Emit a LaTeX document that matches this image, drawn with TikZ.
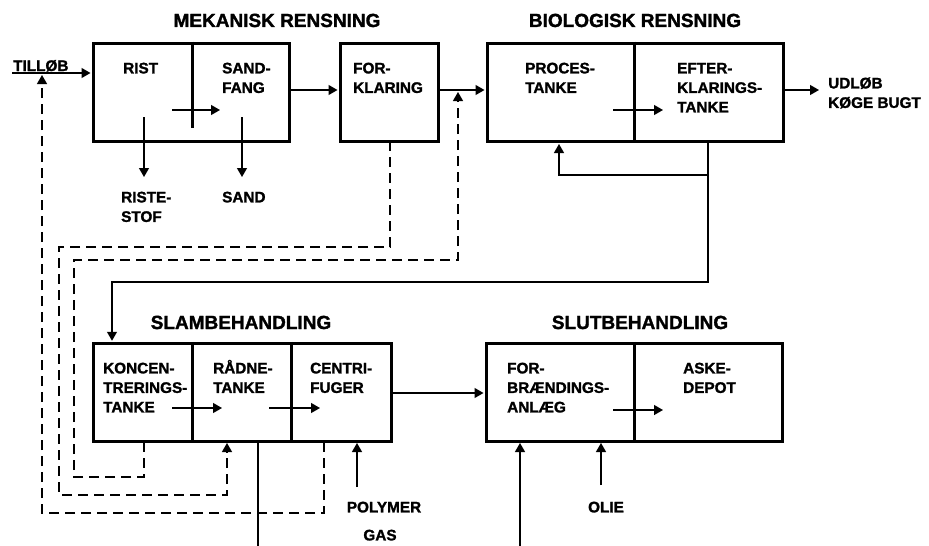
\documentclass[tikz,border=0pt]{standalone}
\usepackage{fontspec}
\setmainfont{Liberation Sans}[BoldFont={* Bold},BoldFeatures={FakeBold=1.5}]
\usetikzlibrary{arrows.meta,calc}
\begin{document}
\begin{tikzpicture}[x=1pt,y=-1pt,
  box/.style={draw, line width=3pt, inner sep=0pt, minimum width=#1, minimum height=98.5pt},
  divider/.style={line width=3pt},
  conn/.style={line width=1.3pt},
  arr/.style={line width=1.3pt, -{Triangle[length=9pt,width=10pt]}, shorten >=1pt},
  darr/.style={line width=1.3pt, dash pattern=on 10pt off 6pt, -{Triangle[length=9pt,width=10pt]}, shorten >=1pt},
  lbl/.style={font=\fontsize{15.3}{19.5}\selectfont\bfseries, inner sep=0pt, align=left, anchor=base west},
  ttl/.style={font=\fontsize{19}{22}\selectfont\bfseries, inner sep=0pt, anchor=base}]
\useasboundingbox (0,0) rectangle (929,546);
% boxes
\node[box=196pt] (mek) at (191,92.25) {};
\node[box=98pt] (fork) at (389,92.25) {};
\node[box=296pt] (bio) at (635,92.25) {};
\node[box=298pt] (slam) at (242,392.5) {};
\node[box=296pt] (slut) at (634,392.5) {};
% dividers
\draw[divider] (mek.north -| 192,0) -- (192,128);
\draw[divider] (bio.north -| 634,0) -- (bio.south -| 634,0);
\draw[divider] (slam.north -| 192,0) -- (slam.south -| 192,0);
\draw[divider] (slam.north -| 291,0) -- (slam.south -| 291,0);
\draw[divider] (slut.north -| 634,0) -- (slut.south -| 634,0);
% titles
\node[ttl] (t1) at (277,27) {MEKANISK RENSNING};
\node[ttl] (t2) at (635,27) {BIOLOGISK RENSNING};
\node[ttl] (t3) at (241,329) {SLAMBEHANDLING};
\node[ttl] (t4) at (640,329) {SLUTBEHANDLING};
% labels (base anchor = last line baseline)
\node[lbl] (tillob) at (13,71) {TILLØB};
\node[lbl] (rist) at (123,73.4) {RIST};
\node[lbl] (sandfang) at (222,92.9) {SAND-\\FANG};
\node[lbl] (forkl) at (353,92.9) {FOR-\\KLARING};
\node[lbl] (proces) at (525,92.9) {PROCES-\\TANKE};
\node[lbl] (efter) at (677,112.4) {EFTER-\\KLARINGS-\\TANKE};
\node[lbl] (udlob) at (828,107.9) {UDLØB\\KØGE BUGT};
\node[lbl] (riste) at (121,221.9) {RISTE-\\STOF};
\node[lbl] (sand) at (222,202.4) {SAND};
\node[lbl] (koncen) at (103,412.4) {KONCEN-\\TRERINGS-\\TANKE};
\node[lbl] (radne) at (213,392.9) {RÅDNE-\\TANKE};
\node[lbl] (centri) at (310,392.9) {CENTRI-\\FUGER};
\node[lbl] (forbr) at (507,412.4) {FOR-\\BRÆNDINGS-\\ANLÆG};
\node[lbl] (aske) at (683,392.9) {ASKE-\\DEPOT};
\node[lbl, anchor=base] (polymer) at (384,512.4) {POLYMER};
\node[lbl, anchor=base] (gas) at (380,540.4) {GAS};
\node[lbl, anchor=base] (olie) at (606,512.4) {OLIE};
% coordinates
\coordinate (tin) at (12,73);
\coordinate (r1) at (0,90);
\coordinate (r2) at (0,393);
\coordinate (outend) at (820,90);
% main flow
\draw[arr] (tin) -- (tin -| mek.west);
\draw[arr] (r1 -| mek.east) -- (r1 -| fork.west);
\draw[arr] (r1 -| fork.east) -- (r1 -| bio.west);
\draw[arr] (r1 -| bio.east) -- (outend);
% internal arrows
\draw[arr] (172,110) -- (221,110);
\draw[arr] (613,110) -- (664,110);
\draw[arr] (172,408) -- (223,408);
\draw[arr] (269,408) -- (321,408);
\draw[arr] (613,410) -- (664,410);
% outputs mek
\draw[arr] (144,117) -- (144,178);
\draw[arr] (242,117) -- (242,178);
% recirculation bio
\coordinate (split) at (708,175);
\coordinate (retx) at (559,0);
\coordinate (slamin) at (112,282);
\draw[arr] (split |- bio.south) -- (split) -| (retx |- bio.south);
\draw[arr] (split) -- (split |- slamin) -- (slamin) -- (slamin |- slam.north);
% slam -> slut
\draw[arr] (r2 -| slam.east) -- (r2 -| slut.west);
% inputs
\draw[arr] (357,487) -- (357,442);
\draw[arr] (601,485) -- (601,442);
\draw[conn] (258,442) -- (258,546);
\draw[arr] (520,546) -- (520,442);
% dashed returns
\draw[darr] (144,442) -- (144,477) -| (74,260) -| (458,91);
\draw[darr] (390,141) -- (390,247) -| (59,495) -| (227,442);
\draw[darr] (324,442) -- (324,513) -| (42,74);
\end{tikzpicture}
\end{document}
